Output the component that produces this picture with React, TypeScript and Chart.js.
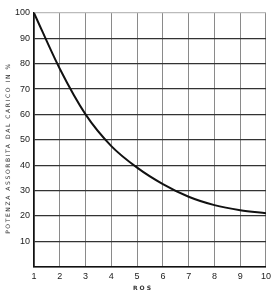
import React, { useEffect, useRef } from "react";
import { Chart, registerables } from "chart.js";

Chart.register(...registerables);

const rosValues = [1, 2, 3, 4, 5, 6, 7, 8, 9, 10];
const powerPercent = [100, 78, 60, 47.5, 39, 32.5, 27.5, 24.2, 22.2, 21];
const xTitle = "ROS";
const yTitle = "POTENZA ASSORBITA DAL CARICO IN %";

const titlePlugin = {
  id: "customTitles",
  afterDraw(chart: any) {
    const { ctx } = chart;
    ctx.save();
    ctx.fillStyle = "#333";
    ctx.font = "bold 6px 'DejaVu Sans'";
    (ctx as any).letterSpacing = "2px";
    ctx.textAlign = "center";
    ctx.textBaseline = "middle";
    ctx.fillText(xTitle, 143, 288);
    ctx.translate(8, 148);
    ctx.rotate(-Math.PI / 2);
    (ctx as any).letterSpacing = "1.6px";
    ctx.font = "6px 'DejaVu Sans'";
    ctx.fillText(yTitle, 0, 0);
    ctx.restore();
  },
};

export default function App() {
  const ref = useRef<HTMLCanvasElement>(null);
  useEffect(() => {
    document.body.style.margin = "0";
    const chart = new Chart(ref.current!, {
      type: "line",
      data: {
        datasets: [
          {
            data: rosValues.map((x, i) => ({ x, y: powerPercent[i] })),
            borderColor: "#111",
            borderWidth: 2,
            pointRadius: 0,
            cubicInterpolationMode: "monotone",
            fill: false,
          },
        ],
      },
      options: {
        animation: false,
        responsive: false,
        maintainAspectRatio: false,
        layout: { padding: { top: 13, right: 8, left: 0, bottom: 0 } },
        plugins: { legend: { display: false }, tooltip: { enabled: false } },
        scales: {
          x: {
            type: "linear",
            min: 1,
            max: 10,
            ticks: {
              stepSize: 1,
              color: "#222",
              font: { size: 9, family: "'Liberation Sans'" },
              padding: 5,
            },
            grid: { color: "#8a8a8a", lineWidth: 1, drawTicks: false },
            border: { color: "#111", width: 1.5 },
            afterFit(scale: any) {
              scale.height = 29.5;
            },
          },
          y: {
            min: 0,
            max: 100,
            ticks: {
              stepSize: 10,
              color: "#222",
              font: { size: 9, family: "'Liberation Sans'" },
              padding: 4,
              callback: (v: any) => (v === 0 ? "" : String(v)),
            },
            grid: {
              color: (c: any) => (c.tick && c.tick.value === 100 ? "#bbb" : "#333"),
              lineWidth: 1.2,
              drawTicks: false,
            },
            border: { color: "#111", width: 1.5 },
            afterFit(scale: any) {
              scale.width = 34;
            },
          },
        },
      },
      plugins: [titlePlugin],
    });
    return () => chart.destroy();
  }, []);
  return (
    <div style={{ width: 276, height: 296, background: "#fff" }}>
      <canvas ref={ref} width={276} height={296} />
    </div>
  );
}
